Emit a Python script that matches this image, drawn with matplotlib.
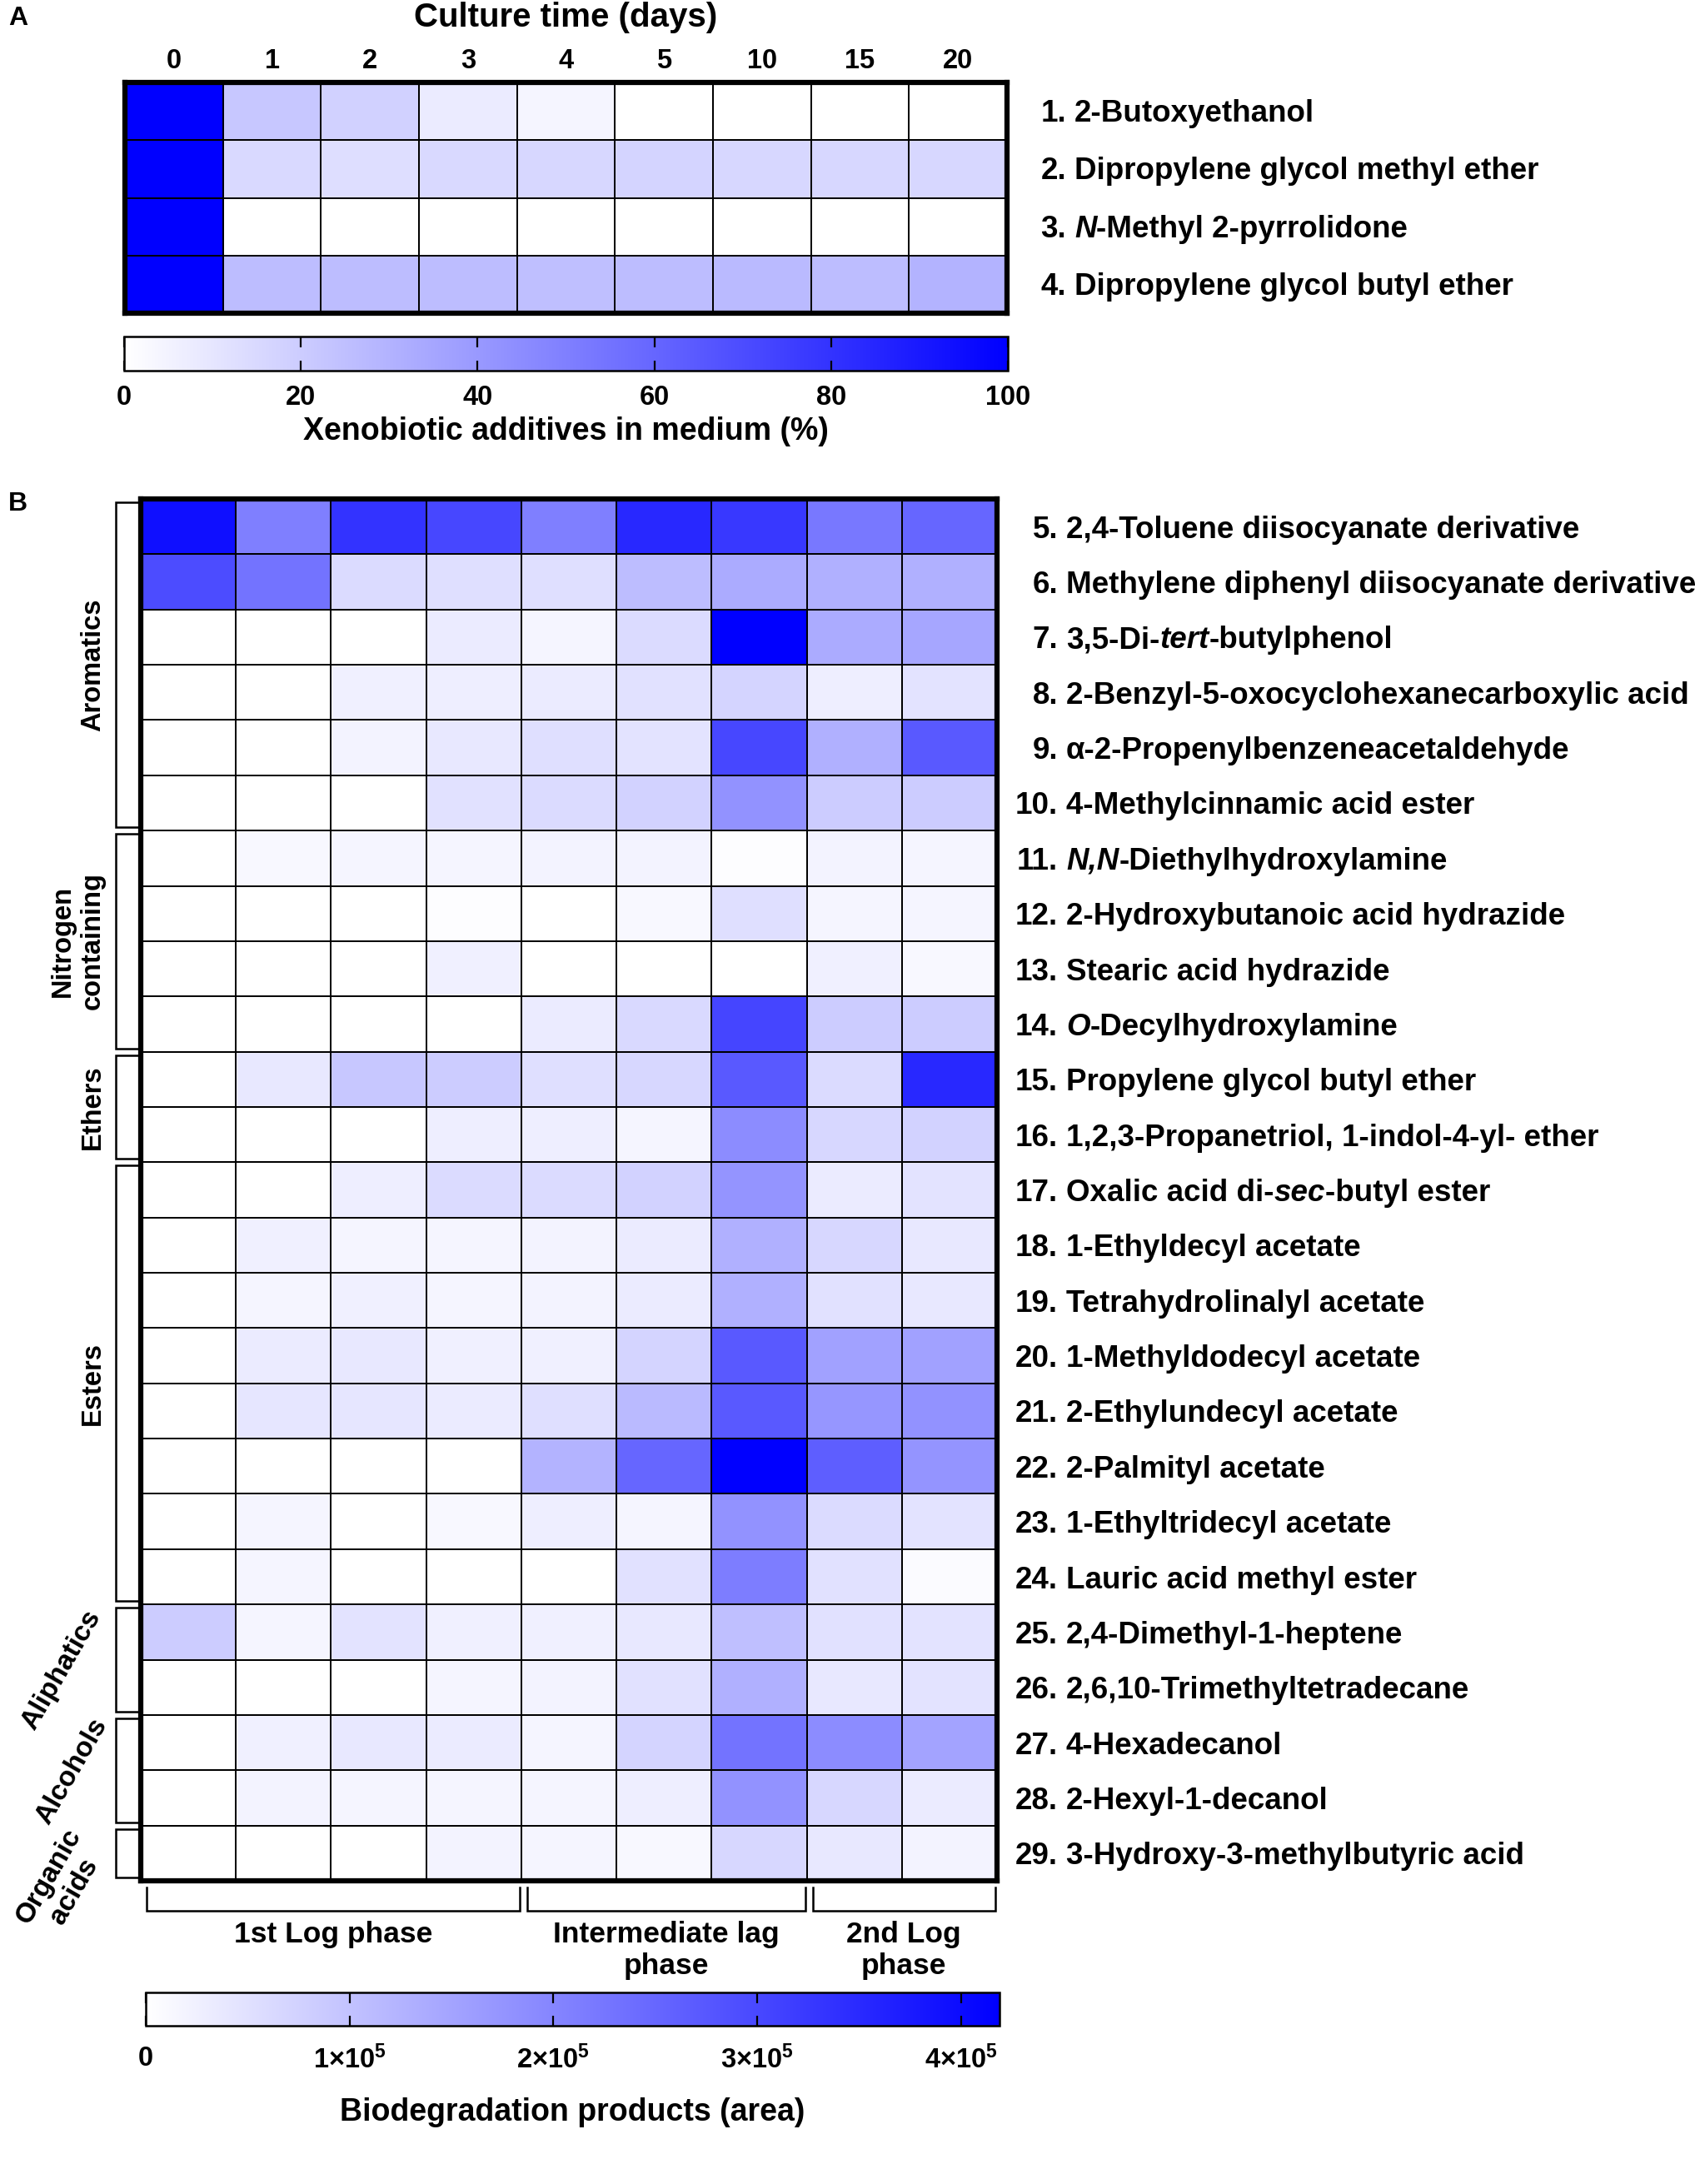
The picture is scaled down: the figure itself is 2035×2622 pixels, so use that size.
import numpy as np
import matplotlib
matplotlib.use('Agg')
import matplotlib.pyplot as plt
from matplotlib.colors import LinearSegmentedColormap

W, H = 2035, 2622
DPI = 100

plt.rcParams['font.family'] = ['Liberation Sans', 'DejaVu Sans']
plt.rcParams['font.weight'] = 'bold'
plt.rcParams['mathtext.fontset'] = 'custom'
plt.rcParams['mathtext.rm'] = 'Liberation Sans:bold'
plt.rcParams['mathtext.bf'] = 'Liberation Sans:bold'
plt.rcParams['mathtext.it'] = 'Liberation Sans:bold:italic'

# ---- data ----
days = ['0', '1', '2', '3', '4', '5', '10', '15', '20']

additives = ['2-Butoxyethanol',
             'Dipropylene glycol methyl ether',
             '*N*-Methyl 2-pyrrolidone',
             'Dipropylene glycol butyl ether']
additive_pct = np.array([
    [100, 22, 18, 8, 4, 0, 0, 0, 0],
    [100, 15, 13, 15, 16, 17, 16, 16, 16],
    [100, 0, 0, 0, 0, 0, 0, 0, 0],
    [100, 26, 26, 26, 25, 26, 27, 26, 30],
])

products = ['2,4-Toluene diisocyanate derivative',
            'Methylene diphenyl diisocyanate derivative',
            '3,5-Di-*tert*-butylphenol',
            '2-Benzyl-5-oxocyclohexanecarboxylic acid',
            'α-2-Propenylbenzeneacetaldehyde',
            '4-Methylcinnamic acid ester',
            '*N,N*-Diethylhydroxylamine',
            '2-Hydroxybutanoic acid hydrazide',
            'Stearic acid hydrazide',
            '*O*-Decylhydroxylamine',
            'Propylene glycol butyl ether',
            '1,2,3-Propanetriol, 1-indol-4-yl- ether',
            'Oxalic acid di-*sec*-butyl ester',
            '1-Ethyldecyl acetate',
            'Tetrahydrolinalyl acetate',
            '1-Methyldodecyl acetate',
            '2-Ethylundecyl acetate',
            '2-Palmityl acetate',
            '1-Ethyltridecyl acetate',
            'Lauric acid methyl ester',
            '2,4-Dimethyl-1-heptene',
            '2,6,10-Trimethyltetradecane',
            '4-Hexadecanol',
            '2-Hexyl-1-decanol',
            '3-Hydroxy-3-methylbutyric acid']

# peak area, units of 1e5
product_area = np.array([
    [3.94, 2.10, 3.35, 3.02, 2.10, 3.52, 3.27, 2.22, 2.51],
    [2.93, 2.30, 0.59, 0.54, 0.54, 1.09, 1.38, 1.30, 1.30],
    [0.00, 0.00, 0.00, 0.34, 0.17, 0.59, 4.19, 1.38, 1.47],
    [0.00, 0.00, 0.25, 0.29, 0.34, 0.50, 0.71, 0.29, 0.46],
    [0.00, 0.00, 0.21, 0.38, 0.54, 0.46, 3.02, 1.30, 2.72],
    [0.00, 0.00, 0.00, 0.50, 0.59, 0.75, 1.80, 0.84, 0.84],
    [0.00, 0.13, 0.17, 0.17, 0.21, 0.21, 0.04, 0.21, 0.17],
    [0.00, 0.00, 0.00, 0.04, 0.00, 0.13, 0.54, 0.17, 0.17],
    [0.00, 0.00, 0.00, 0.25, 0.00, 0.00, 0.00, 0.25, 0.13],
    [0.00, 0.00, 0.00, 0.00, 0.34, 0.63, 3.06, 0.84, 0.84],
    [0.00, 0.38, 0.92, 0.84, 0.54, 0.67, 2.72, 0.59, 3.52],
    [0.00, 0.00, 0.00, 0.29, 0.29, 0.17, 1.89, 0.67, 0.75],
    [0.00, 0.00, 0.29, 0.59, 0.59, 0.75, 1.76, 0.34, 0.46],
    [0.00, 0.25, 0.17, 0.17, 0.21, 0.34, 1.30, 0.67, 0.38],
    [0.00, 0.17, 0.25, 0.17, 0.21, 0.34, 1.30, 0.50, 0.38],
    [0.00, 0.34, 0.38, 0.25, 0.25, 0.71, 2.72, 1.55, 1.55],
    [0.00, 0.42, 0.42, 0.34, 0.54, 1.13, 2.72, 1.72, 1.80],
    [0.00, 0.00, 0.00, 0.00, 1.26, 2.51, 4.19, 2.64, 1.76],
    [0.00, 0.17, 0.00, 0.13, 0.29, 0.17, 1.80, 0.59, 0.46],
    [0.00, 0.17, 0.00, 0.00, 0.00, 0.50, 2.14, 0.50, 0.08],
    [0.84, 0.17, 0.46, 0.25, 0.25, 0.38, 1.05, 0.50, 0.46],
    [0.00, 0.00, 0.00, 0.17, 0.21, 0.50, 1.30, 0.38, 0.46],
    [0.00, 0.25, 0.38, 0.34, 0.17, 0.71, 2.30, 1.89, 1.51],
    [0.00, 0.21, 0.17, 0.17, 0.17, 0.29, 1.80, 0.67, 0.34],
    [0.00, 0.00, 0.00, 0.21, 0.17, 0.13, 0.67, 0.38, 0.21],
]) * 1e5
area_max = 4.19e5

groups = ['Aromatics', 'Nitrogen\ncontaining', 'Ethers', 'Esters',
          'Aliphatics', 'Alcohols', 'Organic\nacids']
group_sizes = [6, 4, 2, 8, 2, 2, 1]

phases = ['1st Log phase', 'Intermediate lag\nphase', '2nd Log\nphase']
phase_sizes = [4, 3, 2]

cmap = LinearSegmentedColormap.from_list('white_blue', ['#ffffff', '#0000ff'])

LABEL = 26.5   # compound names
TICK = 23.5

fig = plt.figure(figsize=(W / DPI, H / DPI), dpi=DPI)

ov = fig.add_axes([0, 0, 1, 1])
ov.set_xlim(0, W)
ov.set_ylim(H, 0)
ov.axis('off')


def px_axes(l, t, r, b):
    return fig.add_axes([l / W, 1 - b / H, (r - l) / W, (b - t) / H])


def heat(ax, data, vmax):
    m = ax.pcolormesh(data, cmap=cmap, vmin=0, vmax=vmax,
                      edgecolors='black', linewidth=1.3)
    ax.set_xlim(0, data.shape[1])
    ax.set_ylim(data.shape[0], 0)
    for s in ax.spines.values():
        s.set_linewidth(4.5)
    ax.set_xticks([])
    ax.set_yticks([])
    return m


def rich_label(x, y, s, size=LABEL):
    prev = None
    for k, part in enumerate(s.split('*')):
        if not part:
            continue
        style = 'italic' if k % 2 else 'normal'
        if prev is None:
            prev = ov.text(x, y, part, fontsize=size, fontstyle=style,
                           ha='left', va='center')
        else:
            prev = ov.annotate(part, xy=(1, 0), xycoords=prev, fontsize=size,
                               fontstyle=style, ha='left', va='bottom')


def colorbar(mappable, l, t, r, b, ticks, labels, title, pad, labelpad):
    cax = px_axes(l, t, r, b)
    cb = fig.colorbar(mappable, cax=cax, orientation='horizontal')
    cb.set_ticks(ticks, labels=labels)
    cb.outline.set_linewidth(1.8)
    cax.tick_params(axis='x', direction='in', top=True, bottom=True,
                    length=9, width=1.6, labelsize=TICK, pad=pad)
    cb.set_label(title, fontsize=27, fontweight='bold', labelpad=labelpad)


# ---- panel A ----
aL, aT, aR, aB = 150, 99, 1209, 376
axA = px_axes(aL, aT, aR, aB)
mA = heat(axA, additive_pct, 100)
axA.xaxis.tick_top()
axA.set_xticks(np.arange(len(days)) + 0.5, days)
axA.tick_params(axis='x', length=0, pad=7, labelsize=TICK)
ov.text((aL + aR) / 2, 21, 'Culture time (days)', fontsize=29,
        ha='center', va='center')
ov.text(10, 22, 'A', fontsize=23, ha='left', va='center')

rowA = (aB - aT) / len(additives)
for i, name in enumerate(additives):
    y = aT + rowA * (i + 0.5) + 3
    ov.text(1280, y, f'{i + 1}.', fontsize=LABEL, ha='right', va='center')
    rich_label(1290, y, name)

colorbar(mA, 149, 404, 1210, 445, [0, 20, 40, 60, 80, 100],
         ['0', '20', '40', '60', '80', '100'],
         'Xenobiotic additives in medium (%)', pad=12, labelpad=5)

# ---- panel B ----
bL, bT, bR, bB = 169, 599, 1197, 2258
axB = px_axes(bL, bT, bR, bB)
mB = heat(axB, product_area, area_max)
ov.text(10, 605, 'B', fontsize=23, ha='left', va='center')

rowB = (bB - bT) / len(products)
for i, name in enumerate(products):
    y = bT + rowB * (i + 0.5) + 4
    ov.text(1270, y, f'{i + 5}.', fontsize=LABEL, ha='right', va='center')
    rich_label(1280, y, name)

# group brackets and labels on the left
rot = {'Aliphatics': 60, 'Alcohols': 60, 'Organic\nacids': 60}
label_pos = {'Aliphatics': (74, 2005), 'Alcohols': (86, 2127),
             'Organic\nacids': (74, 2262)}
start = 0
for g, n in zip(groups, group_sizes):
    y0 = bT + rowB * start + 4
    y1 = bT + rowB * (start + n) - 4
    ov.plot([166, 139, 139, 166], [y0, y0, y1, y1], color='black', lw=1.8,
            solid_joinstyle='miter')
    if g in rot:
        x, y = label_pos[g]
        ov.text(x, y, g, fontsize=TICK + 0.5, rotation=rot[g], ha='center',
                va='center', multialignment='center', linespacing=1.2)
    else:
        ov.text(127, (y0 + y1) / 2, g, fontsize=TICK, rotation=90, ha='right',
                va='center', multialignment='center', linespacing=1.2)
    start += n

# phase brackets under panel B
colB = (bR - bL) / len(days)
start = 0
for p, n in zip(phases, phase_sizes):
    x0 = bL + colB * start + 7
    x1 = bL + colB * (start + n) - 2
    ov.plot([x0, x0, x1, x1], [2266, 2294, 2294, 2266], color='black',
            lw=1.8, solid_joinstyle='miter')
    ov.text((x0 + x1) / 2, 2306, p, fontsize=25.5, ha='center', va='top',
            multialignment='center', linespacing=1.2)
    start += n

colorbar(mB, 175, 2392, 1200, 2432, [0, 1e5, 2e5, 3e5, 4e5],
         ['0'] + [r'$\mathbf{%d{\times}10^{5}}$' % k for k in range(1, 5)],
         'Biodegradation products (area)', pad=17, labelpad=20)

fig.savefig('out.png', dpi=DPI)
